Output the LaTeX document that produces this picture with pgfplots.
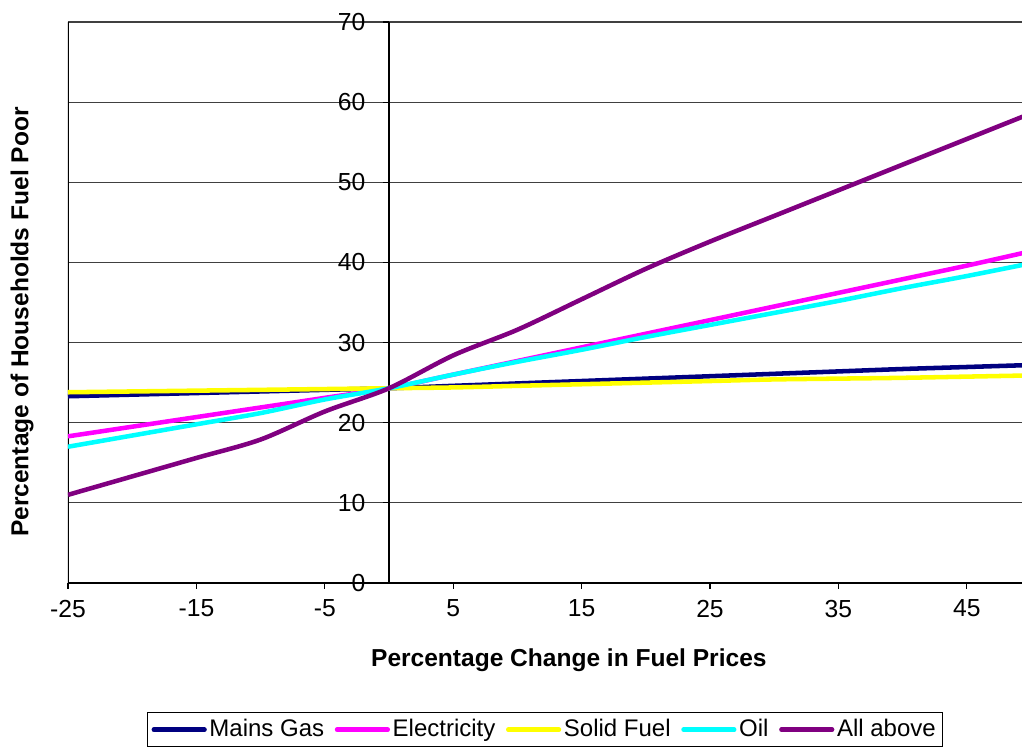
\documentclass[border=0pt]{standalone}
\usepackage{pgfplots}
\pgfplotsset{compat=1.18}
\usepackage{fontspec}
\setmainfont{Liberation Sans}
\definecolor{cGas}{RGB}{0,0,128}
\definecolor{cEl}{RGB}{255,0,255}
\definecolor{cSol}{RGB}{255,255,0}
\definecolor{cOil}{RGB}{0,255,255}
\definecolor{cAll}{RGB}{128,0,128}
\begin{document}
\begin{tikzpicture}
\fontsize{18}{21.6}\selectfont
\begin{axis}[
  width=715.5pt, height=420.75pt, scale only axis,
  xmin=-25, xmax=49.3, ymin=0, ymax=70,
  axis x line=bottom, axis y line=center,
  axis line style={-, black, line width=0.8pt},
  xtick={-25,-15,-5,5,15,25,35,45},
  ytick={0,10,20,30,40,50,60,70},
  hide obscured y ticks=false,
  tick align=outside,
  major tick length=4.5pt,
  tick style={black, line width=0.8pt},
  ymajorgrids,
  major grid style={black!75, line width=0.8pt},
  /pgf/number format/assume math mode=true,
  ticklabel style={font=\fontsize{18.5}{22}\selectfont},
  yticklabel style={xshift=-7pt},
  xticklabel style={yshift=-2pt},
  xlabel={\textbf{Percentage Change in Fuel Prices}},
  ylabel={\textbf{Percentage of Households Fuel Poor}},
  label style={font=\fontsize{18.4}{22}\selectfont},
  xlabel style={at={(axis description cs:0.525,-0.137)}, anchor=center},
  ylabel style={at={(axis description cs:-0.048,0.465)}, anchor=center, rotate=90},
  legend columns=5,
  legend style={at={(axis description cs:0.5,-0.23)}, anchor=north,
    draw=black, line width=0.8pt, font=\fontsize{18}{22}\selectfont,
    inner xsep=3pt, inner ysep=3pt,
    /tikz/every even column/.append style={column sep=6pt}},
  legend image code/.code={\draw[#1, line width=3.4pt, line cap=round] (0pt,0pt) -- (38pt,0pt);},
  every axis plot/.append style={line width=3.4pt, smooth, no markers},
]
\coordinate (bl) at (rel axis cs:0,0);
\coordinate (tr) at (rel axis cs:1,1);
\draw[black, line width=0.8pt] (rel axis cs:0,0) -- (rel axis cs:0,1);
\addplot[cGas] coordinates {(-25,23.3) (-20,23.5) (-15,23.7) (-10,23.9) (-5,24.1) (0,24.3) (5,24.6) (10,24.9) (15,25.2) (20,25.5) (25,25.8) (30,26.1) (35,26.4) (40,26.7) (45,26.95) (50,27.2)};
\addlegendentry{Mains Gas}
\addplot[cEl] coordinates {(-25,18.3) (-20,19.5) (-15,20.7) (-10,21.9) (-5,23.1) (0,24.3) (5,26.0) (10,27.7) (15,29.4) (20,31.1) (25,32.8) (30,34.5) (35,36.2) (40,37.9) (45,39.6) (50,41.4)};
\addlegendentry{Electricity}
\addplot[cSol] coordinates {(-25,23.8) (-20,23.9) (-15,24.0) (-10,24.1) (-5,24.2) (0,24.3) (5,24.4) (10,24.6) (15,24.8) (20,25.0) (25,25.2) (30,25.4) (35,25.5) (40,25.6) (45,25.75) (50,25.9)};
\addlegendentry{Solid Fuel}
\addplot[cOil] coordinates {(-25,17.0) (-20,18.4) (-15,19.8) (-10,21.2) (-5,22.9) (0,24.3) (5,26.0) (10,27.6) (15,29.1) (20,30.7) (25,32.2) (30,33.7) (35,35.2) (40,36.8) (45,38.3) (50,39.9)};
\addlegendentry{Oil}
\addplot[cAll] coordinates {(-25,11.0) (-20,13.3) (-15,15.6) (-10,17.9) (-5,21.4) (0,24.3) (5,28.4) (10,31.6) (15,35.4) (20,39.2) (25,42.6) (30,45.8) (35,49.0) (40,52.2) (45,55.4) (50,58.6)};
\addlegendentry{All above}
\end{axis}
\pgfresetboundingbox
\useasboundingbox ([xshift=-51pt,yshift=-124.5pt]bl) rectangle ([yshift=16.5pt]tr);
\end{tikzpicture}
\end{document}
